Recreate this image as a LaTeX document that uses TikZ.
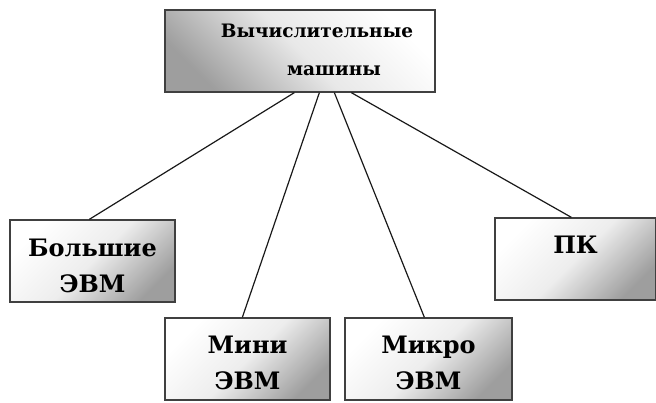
\documentclass[tikz,border=0pt]{standalone}
\usepackage{fontspec}
\setmainfont{DejaVu Serif}
\begin{document}
\begin{tikzpicture}[x=1pt,y=1pt,
  box/.style={draw=black!75, line width=1.3pt, rectangle, inner sep=0pt, minimum height=82pt},
  childbox/.style={box, top color=white, bottom color=black!38, middle color=black!7, shading angle=45},
  rootbox/.style={box, top color=white, bottom color=black!38, middle color=black!9, shading angle=-45},
  childtext/.style={align=center, inner sep=0pt, text=black, font=\bfseries\fontsize{24}{36}\selectfont},
  roottextstyle/.style={align=center, inner sep=0pt, text=black, font=\bfseries\fontsize{18.5}{38}\selectfont},
  link/.style={draw=black!90, line width=1.2pt}]
\useasboundingbox (0,0) rectangle (656,403);
\node[rootbox, minimum width=270pt] (root) at (300,352) {};
\node[roottextstyle] (roottext) at (317,353) {Вычислительные\\\hspace*{34pt}машины};
\node[childbox, minimum width=165pt] (big) at (92.5,142) {};
\node[childbox, minimum width=165pt] (mini) at (247.5,44) {};
\node[childbox, minimum width=167pt] (micro) at (428.5,44) {};
\node[childbox, minimum width=161pt] (pc) at (575.5,144) {};
\node[childtext] (bigtext) at ([yshift=-5pt]big.center) {Большие\\ЭВМ};
\node[childtext] (minitext) at ([yshift=-4pt]mini.center) {Мини\\ЭВМ};
\node[childtext] (microtext) at ([yshift=-4pt]micro.center) {Микро\\ЭВМ};
\node[childtext] (pctext) at ([yshift=14pt]pc.center) {ПК};
\draw[link] ([xshift=130pt]root.south west) -- ([xshift=80pt]big.north west);
\draw[link] ([xshift=155pt]root.south west) -- ([xshift=78pt]mini.north west);
\draw[link] ([xshift=170pt]root.south west) -- ([xshift=80pt]micro.north west);
\draw[link] ([xshift=187pt]root.south west) -- ([xshift=77pt]pc.north west);
\end{tikzpicture}
\end{document}
